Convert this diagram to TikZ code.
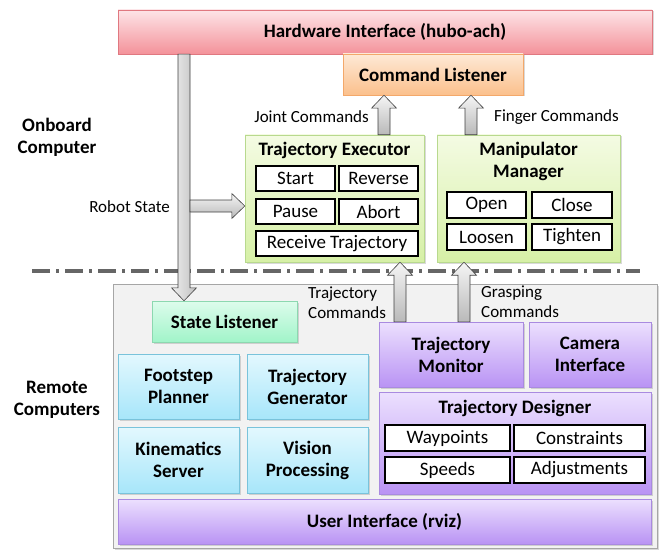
\documentclass[tikz,border=0pt]{standalone}
\usepackage{fontspec}
\setmainfont{Carlito}
\usepackage{tikz}
\usetikzlibrary{calc,shadows}

\definecolor{redtop}{HTML}{FDE4E7}
\definecolor{redbot}{HTML}{F4929A}
\definecolor{redline}{HTML}{E07880}
\definecolor{oratop}{HTML}{FEE9D6}
\definecolor{orabot}{HTML}{FBC08C}
\definecolor{oraline}{HTML}{F3A86A}
\definecolor{limetop}{HTML}{F4FBE3}
\definecolor{limebot}{HTML}{D6F0A6}
\definecolor{limeline}{HTML}{B8D98E}
\definecolor{minttop}{HTML}{DDFCEC}
\definecolor{mintbot}{HTML}{A1F4C9}
\definecolor{mintline}{HTML}{8CD8B0}
\definecolor{skytop}{HTML}{E3F8FE}
\definecolor{skybot}{HTML}{A7E6FA}
\definecolor{skyline}{HTML}{79C3DB}
\definecolor{liltop}{HTML}{ECE0FE}
\definecolor{lilbot}{HTML}{B993F4}
\definecolor{lilline}{HTML}{A98AE0}

\tikzset{
  blk/.style={draw, align=center, inner sep=0pt,
    font=\fontsize{19}{22}\selectfont\bfseries,
    drop shadow={shadow xshift=1.5pt, shadow yshift=-1.5pt, opacity=.3}},
  redblk/.style={blk, draw=redline, top color=redtop, bottom color=redbot},
  orablk/.style={blk, draw=oraline, top color=oratop, bottom color=orabot},
  limeblk/.style={blk, draw=limeline, top color=limetop, bottom color=limebot},
  mintblk/.style={blk, draw=mintline, top color=minttop, bottom color=mintbot},
  skyblk/.style={blk, draw=skyline, top color=skytop, bottom color=skybot},
  lilblk/.style={blk, draw=lilline, top color=liltop, bottom color=lilbot},
  title/.style={font=\fontsize{19}{22}\selectfont\bfseries, align=center, inner sep=0pt},
  cell/.style={draw=black, line width=1.3pt, fill=white, inner sep=0pt,
    font=\fontsize{19}{20}\selectfont, minimum height=25pt},
  lbl/.style={font=\fontsize{17}{20}\selectfont, align=left, inner sep=0pt},
  side/.style={font=\fontsize{19}{22}\selectfont\bfseries, align=center, inner sep=0pt},
  fatarrow/.style={draw=black!75, line width=.6pt, top color=gray!8, bottom color=gray!55},
}

% block arrow from #2 to #3
\newcommand{\fatarrow}[3][]{%
  \path ($(#3)!13pt!(#2)$) coordinate (fa-hb);
  \draw[fatarrow,#1] ($(#2)!6pt!90:(#3)$) -- ($(fa-hb)!6pt!90:(#3)$)
    -- ($(fa-hb)!12.5pt!90:(#3)$) -- (#3) -- ($(fa-hb)!12.5pt!-90:(#3)$)
    -- ($(fa-hb)!6pt!-90:(#3)$) -- ($(#2)!6pt!-90:(#3)$) -- cycle;
}

\begin{document}
\begin{tikzpicture}[x=1pt,y=-1pt]
\useasboundingbox (0,0) rectangle (671,556);

% onboard side
\node[redblk, minimum width=534pt, minimum height=44pt] (hw) at (385,32) {Hardware Interface (hubo-ach)};
\node[orablk, minimum width=180pt, minimum height=41pt] (cl) at (433,74.5) {Command Listener};

\node[limeblk, minimum width=179pt, minimum height=127pt] (te) at (334.5,198.5) {};
\node[title] (te-title) at (334.5,150) {Trajectory Executor};
\node[cell, minimum width=79pt] (start) at (295.5,178.5) {Start};
\node[cell, minimum width=79pt] (reverse) at (378.5,178.5) {Reverse};
\node[cell, minimum width=79pt] (pause) at (295.5,211.5) {Pause};
\node[cell, minimum width=79pt] (abort) at (378.5,211.5) {Abort};
\node[cell, minimum width=162pt] (receive) at (337,243.5) {Receive Trajectory};

\node[limeblk, minimum width=183pt, minimum height=127pt] (mm) at (528.5,198.5) {};
\node[title] (mm-title) at (528.5,161.5) {Manipulator\\Manager};
\node[cell, minimum width=79pt, minimum height=26pt] (open) at (486.5,205) {Open};
\node[cell, minimum width=80pt, minimum height=26pt] (close) at (572,205) {Close};
\node[cell, minimum width=79pt, minimum height=26pt] (loosen) at (486.5,237) {Loosen};
\node[cell, minimum width=80pt, minimum height=26pt] (tighten) at (572,237) {Tighten};

\node[side] (onboard) at (57,137) {Onboard\\Computer};
\node[side] (remote) at (57,400) {Remote\\Computers};

% split between the computers
\draw[black!60, line width=3.5pt, dash pattern=on 18pt off 6pt on 3pt off 6pt] (32,271) -- (640,271);

% remote side
\node[draw=black!35, fill=black!5, minimum width=544pt, minimum height=264pt,
  drop shadow={shadow xshift=1.5pt, shadow yshift=-1.5pt, opacity=.3}] (remote-box) at (385,416) {};
\node[mintblk, minimum width=145pt, minimum height=41pt] (sl) at (224.5,321.5) {State Listener};
\node[skyblk, minimum width=121pt, minimum height=65pt] (fp) at (178.5,386.5) {Footstep\\Planner};
\node[skyblk, minimum width=121pt, minimum height=65pt] (tg) at (307.5,386.5) {Trajectory\\Generator};
\node[skyblk, minimum width=121pt, minimum height=66pt] (ks) at (178.5,460) {Kinematics\\Server};
\node[skyblk, minimum width=121pt, minimum height=66pt] (vp) at (307.5,460) {Vision\\Processing};
\node[lilblk, minimum width=144pt, minimum height=65pt] (tm) at (451,354.5) {Trajectory\\Monitor};
\node[lilblk, minimum width=122pt, minimum height=65pt] (ci) at (590,354.5) {Camera\\Interface};
\node[lilblk, minimum width=272pt, minimum height=102pt] (td) at (515,443) {};
\node[title] (td-title) at (515,408) {Trajectory Designer};
\node[cell, minimum width=125pt, minimum height=26pt] (waypoints) at (447.5,438) {Waypoints};
\node[cell, minimum width=131pt, minimum height=26pt] (constraints) at (579.5,438) {Constraints};
\node[cell, minimum width=125pt, minimum height=26pt] (speeds) at (447.5,470) {Speeds};
\node[cell, minimum width=131pt, minimum height=26pt] (adjust) at (579.5,470) {Adjustments};
\node[lilblk, minimum width=533pt, minimum height=45pt] (ui) at (384.5,521.5) {User Interface (rviz)};

% block arrows
\fatarrow[left color=gray!12, right color=gray!50]{hw.south -| 184,0}{sl.north -| 184,0}
\coordinate (tap) at (190,206);
\fatarrow{tap}{te.west |- tap}
\fatarrow{te.north -| 384,0}{cl.south -| 384,0}
\fatarrow{mm.north -| 471,0}{cl.south -| 471,0}
\fatarrow{tm.north -| 400,0}{te.south -| 400,0}
\fatarrow{tm.north -| 464,0}{mm.south -| 464,0}

% arrow labels
\node[lbl, anchor=east] (robot-state) at (170,207) {Robot State};
\node[lbl, anchor=east] (joint-cmd) at (369,117) {Joint Commands};
\node[lbl, anchor=west] (finger-cmd) at (494,117) {Finger Commands};
\node[lbl, anchor=west] (traj-cmd) at (308,303) {Trajectory\\Commands};
\node[lbl, anchor=west] (grasp-cmd) at (481,302) {Grasping\\Commands};
\end{tikzpicture}
\end{document}
